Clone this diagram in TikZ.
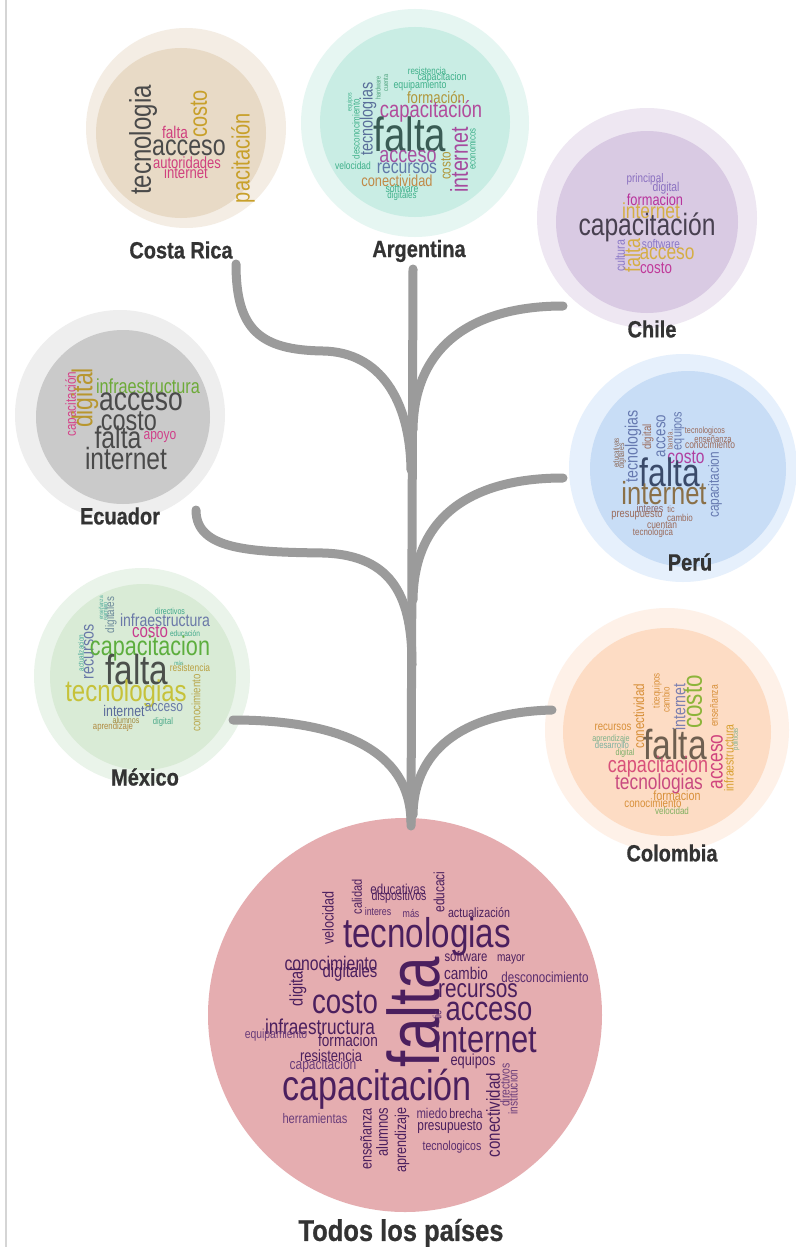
\documentclass[tikz,border=0pt]{standalone}
\usepackage{fontspec}
\setmainfont{Liberation Sans}
\newfontfamily\wfont[FakeStretch=0.8]{Liberation Sans}
\newfontfamily\labfont[FakeStretch=0.85, BoldFeatures={FakeBold=0.7}]{Liberation Sans}
\definecolor{branchgray}{HTML}{9B9B9B}
\definecolor{labgray}{HTML}{333333}
\definecolor{sideline}{HTML}{D5D5D5}
\definecolor{crO}{HTML}{F4EDE4}\definecolor{crI}{HTML}{E8DAC6}
\definecolor{arO}{HTML}{E6F6F2}\definecolor{arI}{HTML}{C9EDE4}
\definecolor{chO}{HTML}{EEE7F2}\definecolor{chI}{HTML}{D9CAE3}
\definecolor{ecO}{HTML}{EEEEEE}\definecolor{ecI}{HTML}{CACACA}
\definecolor{peO}{HTML}{E6F0FC}\definecolor{peI}{HTML}{C8DDF6}
\definecolor{mxO}{HTML}{EAF4EA}\definecolor{mxI}{HTML}{D9EBD6}
\definecolor{coO}{HTML}{FEF1E8}\definecolor{coI}{HTML}{FDDCC4}
\definecolor{toC}{HTML}{E5ADB0}
\newcounter{wcnt}
\newcommand\wrd[6]{\stepcounter{wcnt}\node[wordnode,rotate=#5] (w\thewcnt) at (#1,#2) {\fontsize{#3}{#3}\selectfont\color[HTML]{#4}#6};}
\begin{document}
\begin{tikzpicture}[x=1pt,y=-1pt,
  wordnode/.style={inner sep=0pt, outer sep=0pt, font=\wfont},
  lab/.style={inner sep=0pt, font=\labfont\bfseries\fontsize{23.5}{23.5}\selectfont, text=labgray},
  branch/.style={draw=branchgray, line width=9pt, line cap=round},
  disc/.style={circle, inner sep=0pt, outer sep=0pt, draw=none}]
\useasboundingbox[fill=white] (0,0) rectangle (795,1247);
\coordinate (sideTop) at (6,0);
\coordinate (sideBot) at (6,1247);
\draw[sideline, line width=1.5pt] (sideTop) -- (sideBot);

% ---------- circles ----------
\node[disc, fill=crO, minimum size=200pt] (crOut) at (186,128) {};
\node[disc, fill=crI, minimum size=170pt] (crIn) at (181,133) {};
\node[disc, fill=arO, minimum size=228pt] (arOut) at (415,123) {};
\node[disc, fill=arI, minimum size=190pt] (arIn) at (415,122) {};
\node[disc, fill=chO, minimum size=220pt] (chOut) at (647,218) {};
\node[disc, fill=chI, minimum size=182pt] (chIn) at (647,222) {};
\node[disc, fill=ecO, minimum size=210pt] (ecOut) at (120,415) {};
\node[disc, fill=ecI, minimum size=174pt] (ecIn) at (123,417) {};
\node[disc, fill=peO, minimum size=228pt] (peOut) at (683,468) {};
\node[disc, fill=peI, minimum size=196pt] (peIn) at (688,469) {};
\node[disc, fill=mxO, minimum size=216pt] (mxOut) at (142,676) {};
\node[disc, fill=mxI, minimum size=186pt] (mxIn) at (143,677) {};
\node[disc, fill=coO, minimum size=244pt] (coOut) at (667,730) {};
\node[disc, fill=coI, minimum size=208pt] (coIn) at (667,732) {};
\node[disc, fill=toC, minimum size=394pt] (toC) at (405,1015) {};

% ---------- tree ----------
\coordinate (trunkTop) at (413,269);
\coordinate (trunkBot) at (411,826);
\coordinate (crEnd) at (236,264);
\coordinate (chEnd) at (563,306);
\coordinate (ecEnd) at (196,510);
\coordinate (peEnd) at (563,478);
\coordinate (mxEnd) at (233,720);
\coordinate (coEnd) at (552,710);
\draw[branch] (trunkTop) -- (trunkBot);
\draw[branch] (crEnd) .. controls (236,330) and (260,350) .. (323,351) .. controls (380,352) and (410,400) .. (411,470);
\draw[branch] (chEnd) .. controls (480,306) and (414,340) .. (413,430);
\draw[branch] (ecEnd) .. controls (196,550) and (250,552) .. (323,553) .. controls (395,555) and (412,600) .. (412,665);
\draw[branch] (peEnd) .. controls (480,478) and (414,510) .. (413,600);
\draw[branch] (mxEnd) .. controls (330,720) and (410,745) .. (411,822);
\draw[branch] (coEnd) .. controls (470,712) and (414,745) .. (413,815);

% ---------- Costa Rica ----------
\wrd{143}{140}{30}{4A4A4A}{90}{tecnologia}
\wrd{175}{132}{17}{D0407E}{0}{falta}
\wrd{199}{114}{25}{C8A02A}{90}{costo}
\wrd{189}{148}{29}{4A4A4A}{0}{acceso}
\wrd{187}{163}{16.2}{D0407E}{0}{autoridades}
\wrd{186}{173}{16.4}{D0407E}{0}{internet}
\wrd{243}{158}{25}{C8A02A}{90}{pacitación}

% ---------- Argentina ----------
\wrd{427}{71}{10}{3FB08A}{0}{resistencia}
\wrd{442}{78}{11}{3FB08A}{0}{capacitacion}
\wrd{420}{86}{11}{3FB08A}{0}{equipamiento}
\wrd{378}{88}{7}{4AA07A}{90}{hardware}
\wrd{386}{83}{7}{4AA07A}{90}{cuenta}
\wrd{368}{119}{18}{5A6F9A}{90}{tecnologias}
\wrd{350}{102}{6.5}{3FB08A}{90}{equipos}
\wrd{356}{129}{10}{3FB08A}{90}{desconocimiento}
\wrd{436}{98}{16.5}{B0963A}{0}{formación}
\wrd{431}{111}{23}{B24C9C}{0}{capacitación}
\wrd{410}{134}{48}{3A5C55}{0}{falta}
\wrd{459}{160}{24.5}{A64A9E}{90}{internet}
\wrd{472}{149}{9.8}{3FB08A}{90}{economicos}
\wrd{408}{157}{22.5}{A650A0}{0}{acceso}
\wrd{446}{166}{14.6}{B0963A}{90}{costo}
\wrd{353}{166}{10.6}{3FB08A}{0}{velocidad}
\wrd{407}{168}{19.6}{6078A8}{0}{recursos}
\wrd{397}{181}{16}{C08A48}{0}{conectividad}
\wrd{402}{189}{10.9}{3FB08A}{0}{software}
\wrd{402}{196}{9.9}{3FB08A}{0}{digitales}

% ---------- Chile ----------
\wrd{645}{179}{12.4}{8A70C0}{0}{principal}
\wrd{666}{188}{12.9}{8A70C0}{0}{digital}
\wrd{655}{200}{16}{B8349C}{0}{formacion}
\wrd{651}{211}{21.7}{D5AE45}{0}{internet}
\wrd{647}{227}{30.8}{484050}{0}{capacitación}
\wrd{661}{244}{12.6}{8A78C8}{0}{software}
\wrd{667}{254}{21.7}{D5AE45}{0}{acceso}
\wrd{656}{268}{16.7}{C03A9A}{0}{costo}
\wrd{632}{255}{22.5}{D5AE45}{90}{falta}
\wrd{620}{256}{13.3}{8A78C8}{90}{cultura}

% ---------- Ecuador ----------
\wrd{72}{404}{14.6}{D5448A}{90}{capacitación}
\wrd{85}{398}{28.7}{B8962E}{90}{digital}
\wrd{148}{386}{20.3}{6DAA38}{0}{infraestructura}
\wrd{141}{402}{33}{4A4A4A}{0}{acceso}
\wrd{129}{421}{29.3}{4A4A4A}{0}{costo}
\wrd{118}{437}{31}{4A4A4A}{0}{falta}
\wrd{160}{437}{15}{D0408A}{0}{apoyo}
\wrd{126}{459}{30.7}{4A4A4A}{0}{internet}

% ---------- Peru ----------
\wrd{616}{453}{7.8}{8C6A5A}{90}{educativas}
\wrd{622}{456}{8.5}{8C6A5A}{90}{digitales}
\wrd{633}{446}{17.8}{6679B0}{90}{tecnologias}
\wrd{648}{437}{12}{9A6A5A}{90}{digital}
\wrd{661}{436}{16.6}{6679B0}{90}{acceso}
\wrd{670}{441}{7.6}{9A6A5A}{90}{banda}
\wrd{678}{431}{13.6}{6679B0}{90}{equipos}
\wrd{705}{431}{9}{9A6A5A}{0}{tecnologicos}
\wrd{713}{439}{9.5}{9A6A5A}{0}{enseñanza}
\wrd{710}{445}{10.6}{9A6A5A}{0}{conocimiento}
\wrd{686}{457}{19.4}{B03FA0}{0}{costo}
\wrd{670}{472}{39.7}{3A4A6A}{0}{falta}
\wrd{715}{485}{14.8}{6679B0}{90}{capacitacion}
\wrd{664}{493}{31.9}{8A7048}{0}{internet}
\wrd{650}{508}{11.2}{8A6A70}{0}{interes}
\wrd{671}{509}{9}{9A6A5A}{0}{tic}
\wrd{637}{515}{11.6}{9A6A5A}{0}{presupuesto}
\wrd{680}{518}{10}{9A6A5A}{0}{cambio}
\wrd{662}{525}{10.5}{9A6A5A}{0}{cuentan}
\wrd{653}{533}{9.9}{9A6A5A}{0}{tecnologica}

% ---------- Mexico ----------
\wrd{170}{611}{8.9}{3FA88A}{0}{directivos}
\wrd{165}{620}{17.6}{6B79A8}{0}{infraestructura}
\wrd{150}{632}{18.8}{C83C8E}{0}{costo}
\wrd{185}{634}{8.2}{3FA88A}{0}{educación}
\wrd{81}{653}{8}{4DAA9A}{90}{actualizacion}
\wrd{89}{652}{17.9}{6978A8}{90}{recursos}
\wrd{101}{608}{6}{4DAA9A}{90}{enseñanza}
\wrd{105}{611}{7}{4DAA9A}{90}{cambio}
\wrd{111}{615}{12.3}{6D8A9A}{90}{digitales}
\wrd{150}{649}{27}{5DAE3E}{0}{capacitacion}
\wrd{137}{670}{41.7}{4B504B}{0}{falta}
\wrd{179}{663}{6}{3FA88A}{0}{más}
\wrd{190}{668}{10.5}{B8A040}{0}{resistencia}
\wrd{196}{703}{12.1}{B8A64A}{90}{conocimiento}
\wrd{126}{694}{30}{C6C23A}{0}{tecnologias}
\wrd{124}{711}{15.4}{5A6A9A}{0}{internet}
\wrd{164}{708}{15}{6A7BA8}{0}{acceso}
\wrd{126}{720}{8.9}{A08A40}{0}{alumnos}
\wrd{163}{722}{9.6}{4DAA8A}{0}{digital}
\wrd{113}{727}{9.7}{B08A40}{0}{aprendizaje}

% ---------- Colombia ----------
\wrd{639}{716}{14.6}{D8903A}{90}{conectividad}
\wrd{657}{687}{10}{D8903A}{90}{equipos}
\wrd{656}{704}{10}{D8903A}{90}{tic}
\wrd{666}{700}{10}{D8903A}{90}{cambio}
\wrd{679}{707}{17.6}{7D80B0}{90}{internet}
\wrd{693}{702}{28}{8DB43A}{90}{costo}
\wrd{714}{706}{10.7}{D8903A}{90}{enseñanza}
\wrd{613}{727}{12}{D8903A}{0}{recursos}
\wrd{611}{739}{9}{7DB08A}{0}{aprendizaje}
\wrd{612}{745}{9.7}{7DB0A0}{0}{desarrollo}
\wrd{625}{753}{9}{7DB06A}{0}{digital}
\wrd{675}{744}{42}{6E5F50}{0}{falta}
\wrd{717}{762}{21.7}{D0447E}{90}{acceso}
\wrd{729}{758}{13.1}{D8A030}{90}{infraestructura}
\wrd{736}{739}{7.5}{7DB08A}{90}{políticas}
\wrd{658}{767}{22.5}{D8507A}{0}{capacitacion}
\wrd{659}{784}{21.7}{C84A80}{0}{tecnologias}
\wrd{677}{796}{13.4}{D8903A}{0}{formacion}
\wrd{653}{803}{12.1}{D8903A}{0}{conocimiento}
\wrd{672}{811}{10}{80B060}{0}{velocidad}

% ---------- Todos ----------
\wrd{328}{918}{15.7}{4B1F5E}{90}{velocidad}
\wrd{357}{897}{13.8}{4B1F5E}{90}{calidad}
\wrd{398}{889}{14.4}{4B1F5E}{0}{educativas}
\wrd{399}{897}{13.3}{4B1F5E}{0}{dispositivos}
\wrd{439}{892}{14.9}{4B1F5E}{90}{educaci}
\wrd{378}{912}{11}{5A2D6E}{0}{interes}
\wrd{411}{913}{11}{5A2D6E}{0}{más}
\wrd{479}{913}{13.4}{4B1F5E}{0}{actualización}
\wrd{427}{937}{41.5}{4B1F5E}{0}{tecnologias}
\wrd{466}{956}{14.2}{4B1F5E}{0}{software}
\wrd{511}{959}{12.6}{4B1F5E}{0}{mayor}
\wrd{331}{963}{19.7}{4B1F5E}{0}{conocimiento}
\wrd{350}{973}{18.7}{4B1F5E}{0}{digitales}
\wrd{466}{973}{17}{4B1F5E}{0}{cambio}
\wrd{545}{977}{14.5}{5A2D6E}{0}{desconocimiento}
\wrd{298}{987}{18.2}{4B1F5E}{90}{digital}
\wrd{413}{1012}{73}{4B1F5E}{90}{falta}
\wrd{478}{991}{26}{4B1F5E}{0}{recursos}
\wrd{345}{1003}{34.5}{4B1F5E}{0}{costo}
\wrd{437}{1015}{12}{5A2D6E}{90}{tic}
\wrd{489}{1011}{34.3}{4B1F5E}{0}{acceso}
\wrd{320}{1027}{21.5}{4B1F5E}{0}{infraestructura}
\wrd{276}{1035}{13}{6A3D7A}{0}{equipamiento}
\wrd{348}{1040}{17}{4B1F5E}{0}{formacion}
\wrd{486}{1039}{38.6}{4B1F5E}{0}{internet}
\wrd{331}{1056}{16.2}{4B1F5E}{0}{resistencia}
\wrd{323}{1066}{15}{6A3D7A}{0}{capacitacion}
\wrd{473}{1061}{16}{4B1F5E}{0}{equipos}
\wrd{377}{1089}{42.7}{4B1F5E}{0}{capacitación}
\wrd{493}{1115}{18.9}{4B1F5E}{90}{conectividad}
\wrd{505}{1085}{13}{6A3D7A}{90}{directivos}
\wrd{513}{1092}{12.7}{6A3D7A}{90}{institucion}
\wrd{315}{1119}{13.9}{6A3D7A}{0}{herramientas}
\wrd{366}{1139}{15.8}{4B1F5E}{90}{enseñanza}
\wrd{382}{1132}{16.2}{4B1F5E}{90}{alumnos}
\wrd{402}{1140}{15.7}{4B1F5E}{90}{aprendizaje}
\wrd{432}{1113}{14.2}{5A2D6E}{0}{miedo}
\wrd{466}{1114}{13.5}{4B1F5E}{0}{brecha}
\wrd{450}{1127}{14.8}{4B1F5E}{0}{presupuesto}
\wrd{452}{1147}{13.2}{5A2D6E}{0}{tecnologicos}

% ---------- labels ----------
\node[lab] (lcr) at (181,250) {Costa Rica};
\node[lab] (lar) at (419,251) {Argentina};
\node[lab] (lch) at (652,329) {Chile};
\node[lab] (lec) at (120,516) {Ecuador};
\node[lab] (lpe) at (690,562) {Perú};
\node[lab] (lmx) at (145,777) {México};
\node[lab] (lco) at (672,853) {Colombia};
\node[lab, font=\labfont\bfseries\fontsize{30}{30}\selectfont] (lto) at (401,1233) {Todos los países};
\end{tikzpicture}
\end{document}
